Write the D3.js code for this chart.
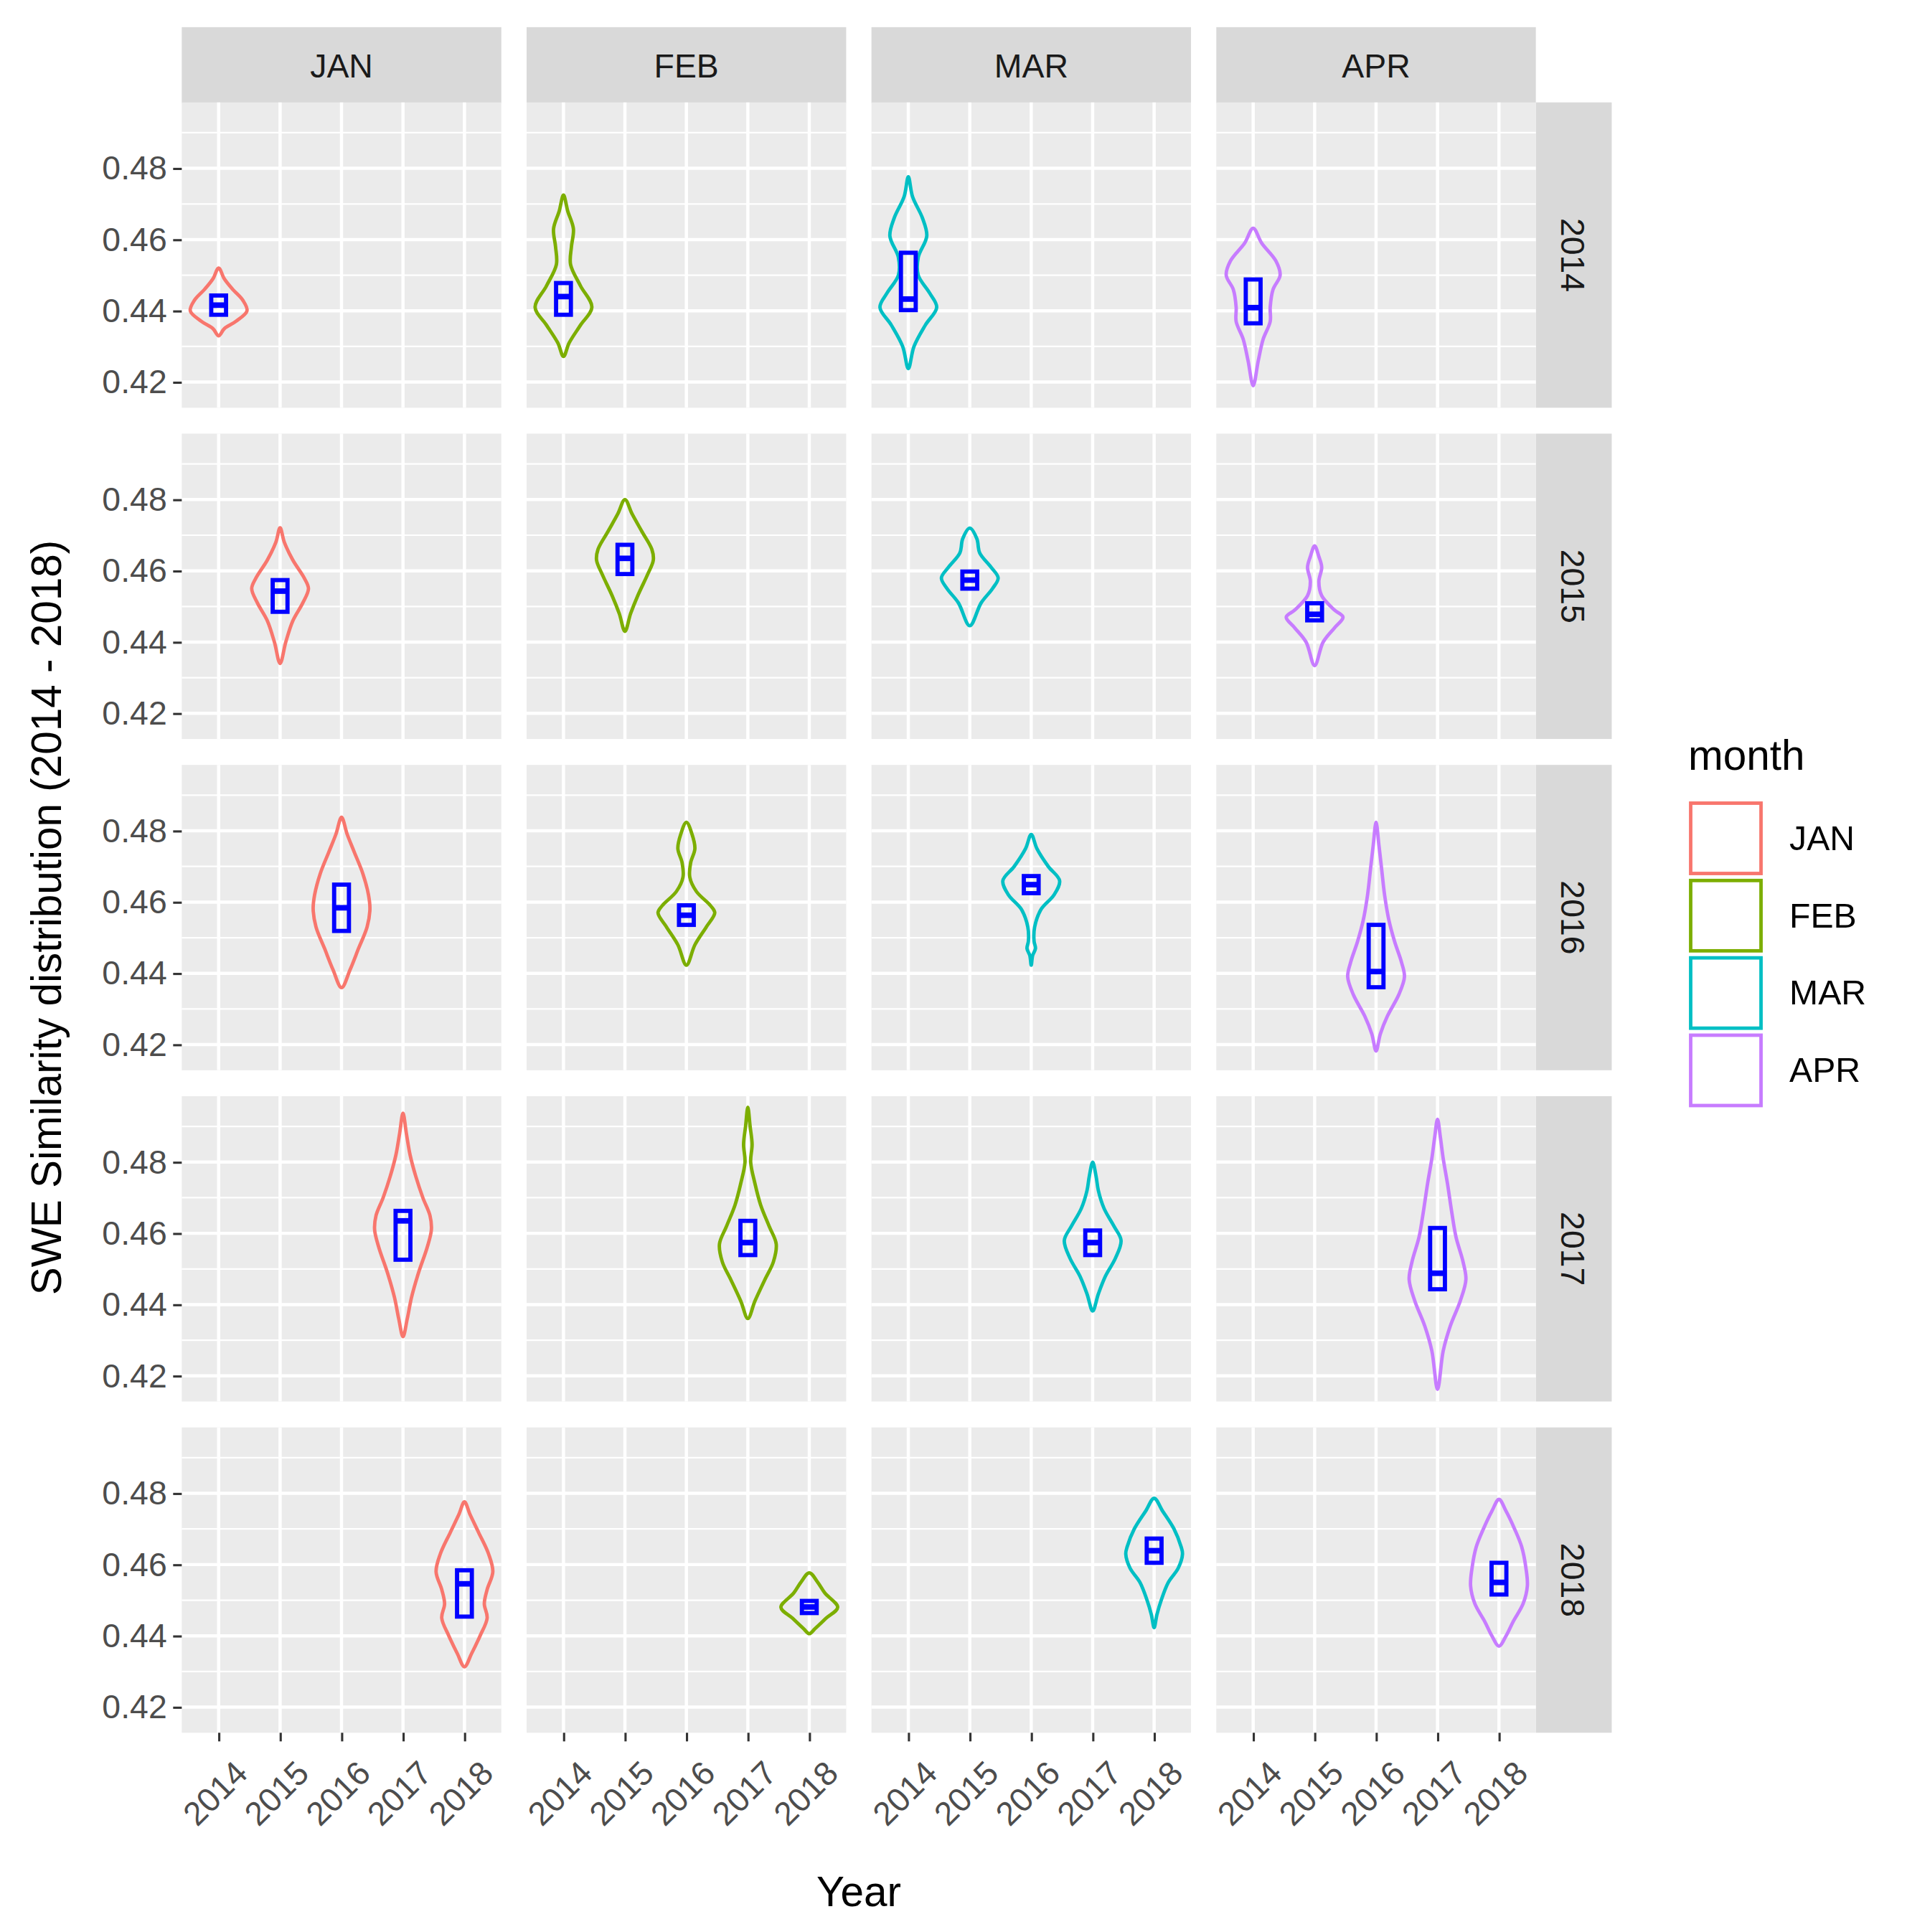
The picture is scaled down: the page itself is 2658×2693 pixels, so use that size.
<!DOCTYPE html>
<html><head><meta charset="utf-8">
<script src="https://cdn.jsdelivr.net/npm/d3@7"></script>
<style>body{margin:0;background:#fff}svg{display:block}</style>
</head><body>
<script>
// facet grid: columns = month, rows = year
const MONTHS = ["JAN", "FEB", "MAR", "APR"];
const YEARS = ["2014", "2015", "2016", "2017", "2018"];
const COLORS = ["#F8766D", "#7CAE00", "#00BFC4", "#C77CFF"];
const Y_TICKS = [0.42, 0.44, 0.46, 0.48];
const Y_MINOR = [0.43, 0.45, 0.47, 0.49];

// violin profiles: [value, relative half-width], top to bottom; indexed [row][col]
const VIOLINS = [
  [
    [[0.452,0],[0.449,.2],[0.446,.5],[0.443,.85],[0.440,1],[0.437,.6],[0.435,.2],[0.433,0]],
    [[0.4725,0],[0.468,.15],[0.463,.35],[0.458,.28],[0.453,.25],[0.447,.6],[0.441,1],[0.436,.6],[0.431,.2],[0.4272,0]],
    [[0.4776,0],[0.472,.15],[0.466,.5],[0.461,.65],[0.455,.35],[0.450,.35],[0.445,.75],[0.441,1],[0.436,.6],[0.430,.2],[0.4238,0]],
    [[0.4632,0],[0.459,.3],[0.454,.8],[0.450,.95],[0.446,.7],[0.441,.6],[0.437,.6],[0.432,.35],[0.426,.18],[0.419,0]]
  ],
  [
    [[0.4721,0],[0.468,.15],[0.463,.45],[0.458,.85],[0.455,1],[0.451,.8],[0.446,.45],[0.440,.2],[0.434,0]],
    [[0.480,0],[0.476,.25],[0.471,.6],[0.466,.95],[0.463,1],[0.459,.8],[0.453,.45],[0.448,.2],[0.443,0]],
    [[0.472,0],[0.469,.25],[0.465,.35],[0.461,.75],[0.458,1],[0.455,.8],[0.451,.4],[0.4446,0]],
    [[0.467,0],[0.464,.15],[0.461,.25],[0.457,.15],[0.453,.25],[0.449,.7],[0.447,1],[0.444,.7],[0.440,.3],[0.4334,0]]
  ],
  [
    [[0.4838,0],[0.479,.2],[0.474,.45],[0.468,.75],[0.462,.95],[0.458,1],[0.453,.9],[0.447,.6],[0.441,.3],[0.436,0]],
    [[0.4824,0],[0.479,.2],[0.475,.3],[0.471,.15],[0.467,.12],[0.463,.35],[0.459,.85],[0.457,1],[0.453,.7],[0.448,.3],[0.4423,0]],
    [[0.479,0],[0.475,.2],[0.470,.6],[0.466,1],[0.462,.8],[0.458,.35],[0.453,.12],[0.449,.1],[0.447,.15],[0.445,.05],[0.4423,0]],
    [[0.4824,0],[0.476,.1],[0.469,.2],[0.462,.3],[0.455,.45],[0.449,.65],[0.443,.9],[0.439,1],[0.434,.8],[0.428,.4],[0.423,.15],[0.4182,0]]
  ],
  [
    [[0.4937,0],[0.488,.12],[0.482,.25],[0.476,.45],[0.470,.7],[0.465,.95],[0.461,1],[0.456,.85],[0.449,.55],[0.442,.3],[0.436,.15],[0.431,0]],
    [[0.4954,0],[0.490,.08],[0.485,.15],[0.480,.1],[0.474,.25],[0.468,.45],[0.462,.75],[0.457,1],[0.452,.9],[0.447,.6],[0.441,.25],[0.4361,0]],
    [[0.480,0],[0.476,.12],[0.472,.2],[0.467,.4],[0.462,.75],[0.458,1],[0.453,.8],[0.448,.45],[0.443,.2],[0.4382,0]],
    [[0.492,0],[0.487,.1],[0.481,.2],[0.474,.35],[0.466,.5],[0.459,.65],[0.452,.9],[0.447,1],[0.441,.8],[0.434,.45],[0.427,.2],[0.4162,0]]
  ],
  [
    [[0.4776,0],[0.474,.2],[0.469,.5],[0.463,.85],[0.458,1],[0.453,.8],[0.449,.7],[0.445,.8],[0.440,.55],[0.435,.25],[0.4313,0]],
    [[0.4577,0],[0.455,.3],[0.452,.55],[0.448,1],[0.445,.6],[0.442,.2],[0.4406,0]],
    [[0.4786,0],[0.475,.3],[0.470,.7],[0.465,.95],[0.463,1],[0.459,.85],[0.455,.5],[0.450,.25],[0.446,.1],[0.4423,0]],
    [[0.4783,0],[0.475,.25],[0.470,.55],[0.465,.8],[0.459,.95],[0.454,1],[0.449,.85],[0.444,.5],[0.440,.25],[0.4371,0]]
  ]
];
// box stats [q1, median, q3] indexed [row][col]
const BOXES = [
  [[0.4389,0.4416,0.4443],[0.4389,0.4440,0.4478],[0.4402,0.4433,0.4563],[0.4365,0.4409,0.4488]],
  [[0.4485,0.4543,0.4574],[0.4591,0.4635,0.4673],[0.4550,0.4574,0.4598],[0.4461,0.4478,0.4509]],
  [[0.4519,0.4584,0.4649],[0.4536,0.4563,0.4591],[0.4625,0.4649,0.4673],[0.4361,0.4405,0.4536]],
  [[0.4526,0.4635,0.4663],[0.4539,0.4574,0.4635],[0.4539,0.4574,0.4608],[0.4443,0.4488,0.4615]],
  [[0.4454,0.4546,0.4584],[0.4464,0.4481,0.4498],[0.4605,0.4639,0.4673],[0.4516,0.4550,0.4605]]
];

const VW = 1545, VH = 1566;
const svg = d3.select("body").append("svg")
  .attr("width", 2658).attr("height", 2693)
  .attr("viewBox", `0 0 ${VW} ${VH}`);
const FONT = "Liberation Sans, Arial, sans-serif";

const PX0 = 147, PW = 259, PGAP = 20.5, PY0 = 83, PH = 247.5, RGAP = 21, STRIP = 61.5;
const colX = i => PX0 + i * (PW + PGAP);
const rowY = j => PY0 + j * (PH + RGAP);

const x = d3.scalePoint().domain(YEARS).range([0, PW]).padding(0.6);
const y = d3.scaleLinear().domain([0.4128, 0.4985]).range([PH, 0]);
const wScale = d3.scaleLinear().domain([0, 1]).range([0, 23]);

// strips
MONTHS.forEach((m, i) => {
  svg.append("rect").attr("x", colX(i)).attr("y", 22).attr("width", PW).attr("height", STRIP).attr("fill", "#D9D9D9");
  svg.append("text").attr("x", colX(i) + PW / 2).attr("y", 22 + STRIP / 2 + 10).attr("text-anchor", "middle")
    .attr("style", `font:27px ${FONT};fill:#1A1A1A`).text(m);
});
YEARS.forEach((yr, j) => {
  const sx = colX(3) + PW, cy = rowY(j) + PH / 2;
  svg.append("rect").attr("x", sx).attr("y", rowY(j)).attr("width", STRIP).attr("height", PH).attr("fill", "#D9D9D9");
  svg.append("text").attr("transform", `translate(${sx + STRIP / 2 - 10},${cy}) rotate(90)`).attr("text-anchor", "middle")
    .attr("style", `font:27px ${FONT};fill:#1A1A1A`).text(yr);
});

YEARS.forEach((yr, j) => {
  MONTHS.forEach((m, i) => {
    const g = svg.append("g").attr("transform", `translate(${colX(i)},${rowY(j)})`);
    g.append("rect").attr("width", PW).attr("height", PH).attr("fill", "#EBEBEB");
    Y_MINOR.forEach(v => g.append("line").attr("x1", 0).attr("x2", PW).attr("y1", y(v)).attr("y2", y(v)).attr("stroke", "#fff").attr("stroke-width", 1.3));
    Y_TICKS.forEach(v => g.append("line").attr("x1", 0).attr("x2", PW).attr("y1", y(v)).attr("y2", y(v)).attr("stroke", "#fff").attr("stroke-width", 2.6));
    YEARS.forEach(v => g.append("line").attr("x1", x(v)).attr("x2", x(v)).attr("y1", 0).attr("y2", PH).attr("stroke", "#fff").attr("stroke-width", 2.6));

    // violin only at the row's year
    const prof = VIOLINS[j][i], cx = x(yr);
    const right = prof.map(d => [cx + wScale(d[1]), y(d[0])]);
    const left = prof.slice().reverse().map(d => [cx - wScale(d[1]), y(d[0])]);
    g.append("path").attr("d", d3.line().curve(d3.curveCatmullRomClosed)(right.concat(left.slice(1, -1))))
      .attr("fill", "none").attr("stroke", COLORS[i]).attr("stroke-width", 2.8);
    const b = BOXES[j][i];
    g.append("rect").attr("x", cx - 6).attr("y", y(b[2])).attr("width", 12).attr("height", y(b[0]) - y(b[2]))
      .attr("fill", "none").attr("stroke", "#0000FF").attr("stroke-width", 3.4);
    g.append("line").attr("x1", cx - 6).attr("x2", cx + 6).attr("y1", y(b[1])).attr("y2", y(b[1]))
      .attr("stroke", "#0000FF").attr("stroke-width", 4.5);

    if (i === 0) {
      const ax = g.append("g").call(d3.axisLeft(y).tickValues(Y_TICKS).tickFormat(d3.format(".2f")).tickSize(7).tickPadding(5));
      ax.select(".domain").remove();
      ax.selectAll("line").attr("stroke", "#333").attr("stroke-width", 1.8);
      ax.selectAll("text").attr("style", `font:27px ${FONT};fill:#4D4D4D`);
    }
    if (j === YEARS.length - 1) {
      const ax = g.append("g").attr("transform", `translate(0,${PH})`).call(d3.axisBottom(x).tickSize(7).tickPadding(4));
      ax.select(".domain").remove();
      ax.selectAll("line").attr("stroke", "#333").attr("stroke-width", 1.8);
      ax.selectAll("text").attr("style", `font:27px ${FONT};fill:#4D4D4D`)
        .attr("text-anchor", "end").attr("dy", "0.35em")
        .attr("transform", "translate(10,20) rotate(-45)");
    }
  });
});

// axis titles
svg.append("text").attr("x", colX(0) + (colX(3) + PW - colX(0)) / 2).attr("y", 1545).attr("text-anchor", "middle")
  .attr("style", `font:34px ${FONT};fill:#000`).text("Year");
svg.append("text").attr("transform", `translate(49,${rowY(0) + (rowY(4) + PH - rowY(0)) / 2}) rotate(-90)`).attr("text-anchor", "middle")
  .attr("style", `font:34px ${FONT};fill:#000`).text("SWE Similarity distribution (2014 - 2018)");

// legend
svg.append("text").attr("x", 1368).attr("y", 624).attr("style", `font:34px ${FONT};fill:#000`).text("month");
MONTHS.forEach((m, i) => {
  const ky = 651 + i * 62.7;
  svg.append("rect").attr("x", 1370).attr("y", ky).attr("width", 57).attr("height", 57)
    .attr("fill", "#fff").attr("stroke", COLORS[i]).attr("stroke-width", 2.8);
  svg.append("text").attr("x", 1450).attr("y", ky + 28 + 10).attr("style", `font:28px ${FONT};fill:#000`).text(m);
});
</script>
</body></html>
